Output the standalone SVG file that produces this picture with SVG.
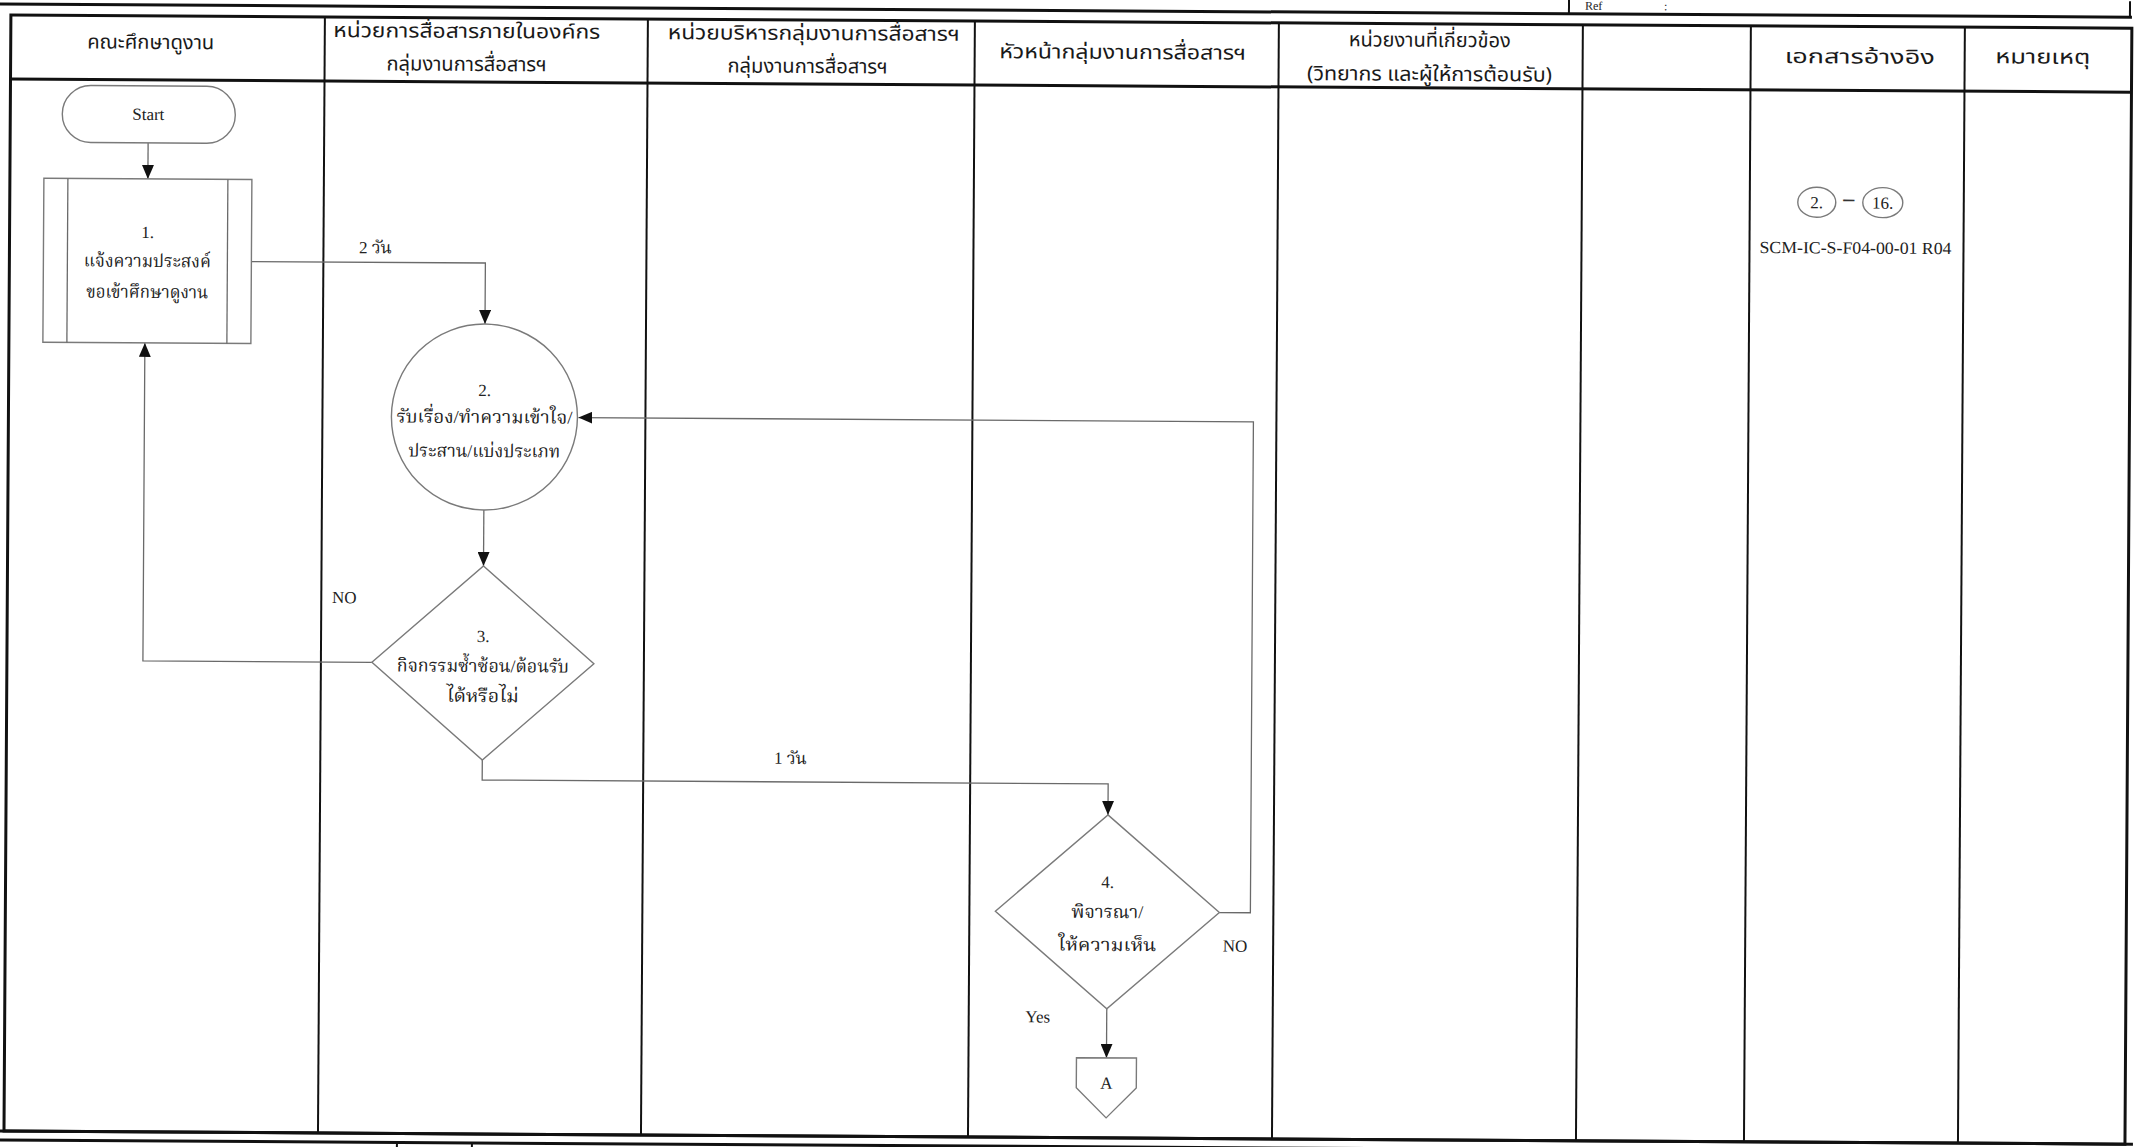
<svg xmlns="http://www.w3.org/2000/svg" width="2134" height="1147" viewBox="0 0 2134 1147">
<style>
.tk{stroke:#111;fill:none;stroke-width:3}
.tm{stroke:#111;fill:none;stroke-width:2}
.sh{fill:#fff;stroke:#7a7a7a;stroke-width:1.4}
.cn{fill:none;stroke:#6a6a6a;stroke-width:1.3;marker-end:url(#ah)}
.cx{fill:none;stroke:#6a6a6a;stroke-width:1.3}
.th{font-family:"Noto Sans Thai","Noto Sans","DejaVu Sans",sans-serif;font-size:20px;fill:#1a1a1a;text-anchor:middle}
.tb{font-family:"Liberation Serif","Noto Serif Thai","Noto Sans Thai",serif;font-size:18px;fill:#222;text-anchor:middle}
.en{font-family:"Liberation Serif","Noto Serif Thai","Noto Sans Thai",serif;font-size:17px;fill:#222;text-anchor:middle}
</style>
<defs>
<marker id="ah" markerUnits="userSpaceOnUse" markerWidth="14" markerHeight="12" refX="14" refY="6" orient="auto">
<path d="M0,0 L14,6 L0,12 Z" fill="#111"/>
</marker>
</defs>
<rect x="0" y="0" width="2134" height="1147" fill="#fff"/>
<g transform="rotate(0.355)">
<g id="frame">
<line class="tk" x1="-5" y1="4" x2="2132" y2="4"/>
<line class="tm" x1="1569" y1="-12" x2="1569" y2="4"/>
<line class="tm" x1="2130" y1="-12" x2="2130" y2="4"/>
<text x="1585" y="0" font-family="Liberation Serif,serif" font-size="12" fill="#222">Ref</text>
<text x="1664" y="0" font-family="Liberation Serif,serif" font-size="12" fill="#222">:</text>
<rect class="tk" x="11" y="15" width="2121" height="1116"/>
<line class="tk" x1="11" y1="79" x2="2132" y2="79"/>
<line class="tm" x1="325" y1="15" x2="325" y2="1131"/>
<line class="tm" x1="648" y1="15" x2="648" y2="1131"/>
<line class="tm" x1="975" y1="15" x2="975" y2="1131"/>
<line class="tm" x1="1279" y1="15" x2="1279" y2="1131"/>
<line class="tm" x1="1583" y1="15" x2="1583" y2="1131"/>
<line class="tm" x1="1751" y1="15" x2="1751" y2="1131"/>
<line class="tm" x1="1965" y1="15" x2="1965" y2="1131"/>
<line class="tk" x1="-5" y1="1131" x2="2140" y2="1131"/>
<line class="tk" x1="-5" y1="1140" x2="2140" y2="1140"/>
<line class="tm" x1="404" y1="1140" x2="404" y2="1160"/>
<line class="tm" x1="479" y1="1140" x2="479" y2="1160"/>
</g>
<g id="headers">
<text class="th" x="151" y="48" textLength="127" lengthAdjust="spacingAndGlyphs">คณะศึกษาดูงาน</text>
<text class="th" x="467" y="35" textLength="267" lengthAdjust="spacingAndGlyphs">หน่วยการสื่อสารภายในองค์กร</text>
<text class="th" x="467" y="68" textLength="160" lengthAdjust="spacingAndGlyphs">กลุ่มงานการสื่อสารฯ</text>
<text class="th" x="814" y="35" textLength="292" lengthAdjust="spacingAndGlyphs">หน่วยบริหารกลุ่มงานการสื่อสารฯ</text>
<text class="th" x="808" y="68" textLength="160" lengthAdjust="spacingAndGlyphs">กลุ่มงานการสื่อสารฯ</text>
<text class="th" x="1123" y="52" textLength="247" lengthAdjust="spacingAndGlyphs">หัวหน้ากลุ่มงานการสื่อสารฯ</text>
<text class="th" x="1430" y="38" textLength="162" lengthAdjust="spacingAndGlyphs">หน่วยงานที่เกี่ยวข้อง</text>
<text class="th" x="1430" y="72" textLength="245" lengthAdjust="spacingAndGlyphs">(วิทยากร และผู้ให้การต้อนรับ)</text>
<text class="th" x="1860" y="52" textLength="150" lengthAdjust="spacingAndGlyphs">เอกสารอ้างอิง</text>
<text class="th" x="2043" y="51" textLength="95" lengthAdjust="spacingAndGlyphs">หมายเหตุ</text>
</g>
<g id="connectors">
<path class="cn" d="M149,142 V178"/>
<path class="cn" d="M253,260 H487 V321"/>
<path class="cn" d="M487,507 V563"/>
<path class="cn" d="M376,660 H147 V342"/>
<path class="cn" d="M487,757 V777 H1113 V808"/>
<path class="cn" d="M1225,905 H1256 V414 H581"/>
<path class="cn" d="M1113,1002 V1051"/>
<text class="en" x="377" y="251">2 วัน</text>
<text class="en" x="795" y="759">1 วัน</text>
<text class="en" x="348" y="601">NO</text>
<text class="en" x="1241" y="944">NO</text>
<text class="en" x="1044" y="1016">Yes</text>
</g>
<g id="n-start">
<rect class="sh" x="63" y="85" width="173" height="57" rx="28.5"/>
<text class="en" x="149" y="119">Start</text>
</g>
<g id="n-1">
<rect class="sh" x="45" y="178" width="208" height="164"/>
<line class="cx" x1="69" y1="178" x2="69" y2="342"/>
<line class="cx" x1="229" y1="178" x2="229" y2="342"/>
<text class="en" x="149" y="237">1.</text>
<text class="tb" x="149" y="266" textLength="127" lengthAdjust="spacingAndGlyphs">แจ้งความประสงค์</text>
<text class="tb" x="149" y="297" textLength="122" lengthAdjust="spacingAndGlyphs">ขอเข้าศึกษาดูงาน</text>
</g>
<g id="n-2">
<circle class="sh" cx="487" cy="414" r="93"/>
<text class="en" x="487" y="393">2.</text>
<text class="tb" x="487" y="420" textLength="176" lengthAdjust="spacingAndGlyphs">รับเรื่อง/ทำความเข้าใจ/</text>
<text class="tb" x="487" y="454" textLength="152" lengthAdjust="spacingAndGlyphs">ประสาน/แบ่งประเภท</text>
</g>
<g id="n-3">
<polygon class="sh" points="487,563 598,660 487,757 376,660"/>
<text class="en" x="487" y="639">3.</text>
<text class="tb" x="487" y="669" textLength="172" lengthAdjust="spacingAndGlyphs">กิจกรรมซ้ำซ้อน/ต้อนรับ</text>
<text class="tb" x="487" y="699" textLength="72" lengthAdjust="spacingAndGlyphs">ได้หรือไม่</text>
</g>
<g id="n-4">
<polygon class="sh" points="1113,808 1225,905 1113,1002 1001,905"/>
<text class="en" x="1113" y="881">4.</text>
<text class="tb" x="1113" y="911" textLength="72" lengthAdjust="spacingAndGlyphs">พิจารณา/</text>
<text class="tb" x="1113" y="944" textLength="98" lengthAdjust="spacingAndGlyphs">ให้ความเห็น</text>
</g>
<g id="n-A">
<polygon class="sh" points="1083,1051 1143,1051 1143,1081 1113,1111 1083,1081"/>
<text class="en" x="1113" y="1082">A</text>
</g>
<g id="ref">
<ellipse class="sh" cx="1818" cy="191" rx="19" ry="15"/>
<text class="en" x="1818" y="197">2.</text>
<text x="1850" y="194" font-family="Liberation Serif,serif" font-size="22" font-weight="bold" fill="#333" text-anchor="middle">–</text>
<ellipse class="sh" cx="1884" cy="191" rx="20" ry="15"/>
<text class="en" x="1884" y="197">16.</text>
<text class="en" x="1857" y="242" textLength="192" lengthAdjust="spacingAndGlyphs">SCM-IC-S-F04-00-01 R04</text>
</g>
</g>
</svg>
